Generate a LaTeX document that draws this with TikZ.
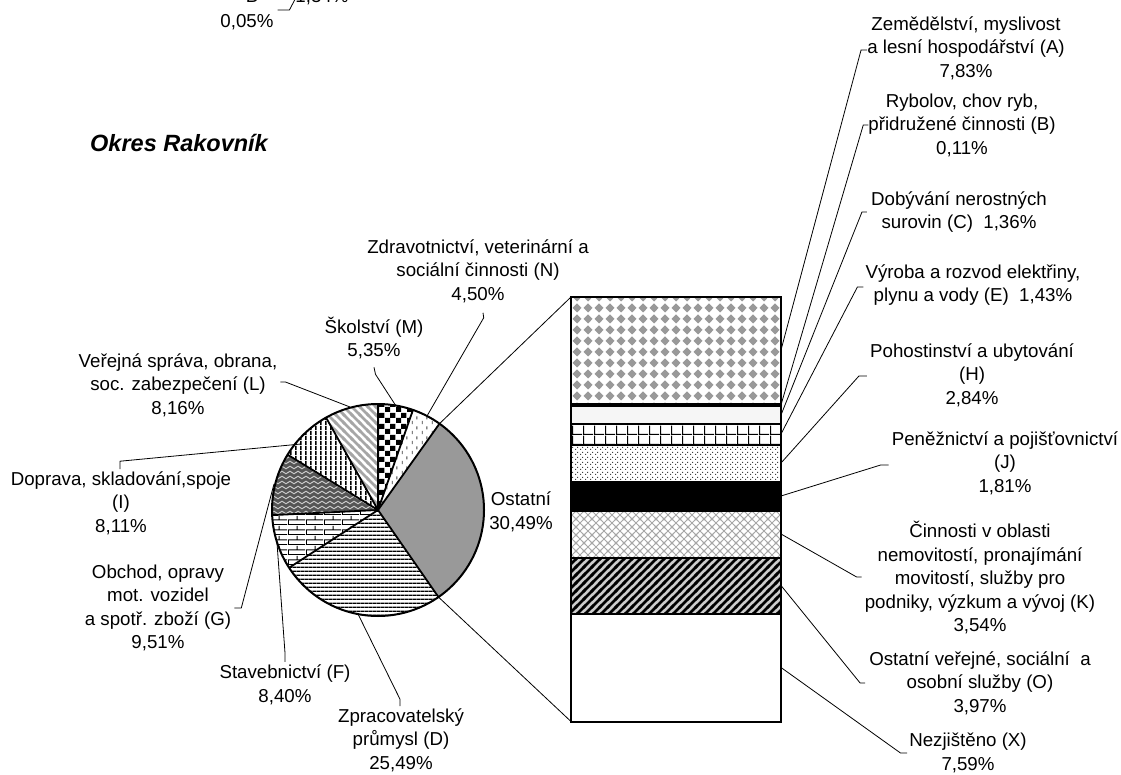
\documentclass[tikz,border=0pt]{standalone}
\usepackage{fontspec}
\setmainfont{Liberation Sans}
\usetikzlibrary{patterns,calc}

\definecolor{ogray}{RGB}{153,153,153}
\definecolor{wavebg}{RGB}{85,85,85}
\definecolor{wavefg}{RGB}{200,200,200}
\definecolor{lgray}{RGB}{166,166,166}
\definecolor{cband}{RGB}{246,246,246}
\definecolor{obg}{RGB}{204,204,204}

% ---------- patterns ----------
\pgfdeclarepatternformonly{pchecker}{\pgfqpoint{0pt}{0pt}}{\pgfqpoint{11pt}{11pt}}{\pgfqpoint{11pt}{11pt}}{%
  \pgfpathrectangle{\pgfqpoint{0pt}{0pt}}{\pgfqpoint{5.5pt}{5.5pt}}%
  \pgfpathrectangle{\pgfqpoint{5.5pt}{5.5pt}}{\pgfqpoint{5.5pt}{5.5pt}}%
  \pgfusepath{fill}}
\pgfdeclarepatternformonly{pvdash}{\pgfqpoint{0pt}{0pt}}{\pgfqpoint{10pt}{10pt}}{\pgfqpoint{10pt}{10pt}}{%
  \pgfpathrectangle{\pgfqpoint{2pt}{1pt}}{\pgfqpoint{0.9pt}{3.5pt}}%
  \pgfpathrectangle{\pgfqpoint{7pt}{6pt}}{\pgfqpoint{0.9pt}{3.5pt}}%
  \pgfusepath{fill}}
\pgfdeclarepatternformonly{phlines}{\pgfqpoint{0pt}{0pt}}{\pgfqpoint{4.2pt}{4.2pt}}{\pgfqpoint{4.2pt}{4.2pt}}{%
  \pgfpathrectangle{\pgfqpoint{0pt}{0pt}}{\pgfqpoint{4.2pt}{1.7pt}}\pgfusepath{fill}}
\pgfdeclarepatternformonly{pvlines}{\pgfqpoint{0pt}{0pt}}{\pgfqpoint{5pt}{5pt}}{\pgfqpoint{5pt}{5pt}}{%
  \pgfpathrectangle{\pgfqpoint{0pt}{0pt}}{\pgfqpoint{2pt}{5pt}}\pgfusepath{fill}}
\pgfdeclarepatternformonly{pbricks}{\pgfqpoint{0pt}{0pt}}{\pgfqpoint{18pt}{10pt}}{\pgfqpoint{18pt}{10pt}}{%
  \pgfpathrectangle{\pgfqpoint{0pt}{0pt}}{\pgfqpoint{18pt}{1pt}}%
  \pgfpathrectangle{\pgfqpoint{0pt}{5pt}}{\pgfqpoint{18pt}{1pt}}%
  \pgfpathrectangle{\pgfqpoint{0pt}{0pt}}{\pgfqpoint{1pt}{5pt}}%
  \pgfpathrectangle{\pgfqpoint{9pt}{5pt}}{\pgfqpoint{1pt}{5pt}}%
  \pgfusepath{fill}}
\pgfdeclarepatternformonly{pwaves}{\pgfqpoint{-1pt}{-1pt}}{\pgfqpoint{9pt}{6pt}}{\pgfqpoint{8pt}{5pt}}{%
  \pgfsetlinewidth{1pt}\pgfsetroundcap
  \pgfpathmoveto{\pgfqpoint{0pt}{2.5pt}}%
  \pgfpathcurveto{\pgfqpoint{1.3pt}{4.2pt}}{\pgfqpoint{2.7pt}{4.2pt}}{\pgfqpoint{4pt}{2.5pt}}%
  \pgfpathcurveto{\pgfqpoint{5.3pt}{0.8pt}}{\pgfqpoint{6.7pt}{0.8pt}}{\pgfqpoint{8pt}{2.5pt}}%
  \pgfusepath{stroke}}
\pgfdeclarepatternformonly{pnwlines}{\pgfqpoint{-2pt}{-2pt}}{\pgfqpoint{10pt}{10pt}}{\pgfqpoint{8pt}{8pt}}{%
  \pgfsetlinewidth{2.6pt}%
  \pgfpathmoveto{\pgfqpoint{-2pt}{10pt}}\pgfpathlineto{\pgfqpoint{10pt}{-2pt}}\pgfusepath{stroke}}
\pgfdeclarepatternformonly{pnelines}{\pgfqpoint{-2pt}{-2pt}}{\pgfqpoint{10pt}{10pt}}{\pgfqpoint{8pt}{8pt}}{%
  \pgfsetlinewidth{2.8pt}%
  \pgfpathmoveto{\pgfqpoint{-2pt}{-2pt}}\pgfpathlineto{\pgfqpoint{10pt}{10pt}}\pgfusepath{stroke}}
\pgfdeclarepatternformonly{pcross}{\pgfqpoint{-2pt}{-2pt}}{\pgfqpoint{10pt}{10pt}}{\pgfqpoint{8pt}{8pt}}{%
  \pgfsetlinewidth{0.9pt}%
  \pgfpathmoveto{\pgfqpoint{-2pt}{-2pt}}\pgfpathlineto{\pgfqpoint{10pt}{10pt}}%
  \pgfpathmoveto{\pgfqpoint{-2pt}{10pt}}\pgfpathlineto{\pgfqpoint{10pt}{-2pt}}\pgfusepath{stroke}}
\pgfdeclarepatternformonly{pdiamond}{\pgfqpoint{0pt}{0pt}}{\pgfqpoint{11pt}{11pt}}{\pgfqpoint{11pt}{11pt}}{%
  \pgfpathmoveto{\pgfqpoint{5.5pt}{0.6pt}}\pgfpathlineto{\pgfqpoint{10.4pt}{5.5pt}}%
  \pgfpathlineto{\pgfqpoint{5.5pt}{10.4pt}}\pgfpathlineto{\pgfqpoint{0.6pt}{5.5pt}}\pgfpathclose
  \pgfusepath{fill}}
\pgfdeclarepatternformonly{pgridE}{\pgfqpoint{0pt}{0pt}}{\pgfqpoint{11pt}{10pt}}{\pgfqpoint{11pt}{10pt}}{%
  \pgfpathrectangle{\pgfqpoint{0pt}{0pt}}{\pgfqpoint{11pt}{1.3pt}}%
  \pgfpathrectangle{\pgfqpoint{0pt}{0pt}}{\pgfqpoint{1.3pt}{10pt}}%
  \pgfusepath{fill}}
\pgfdeclarepatternformonly{pdotsH}{\pgfqpoint{0pt}{0pt}}{\pgfqpoint{5pt}{5pt}}{\pgfqpoint{5pt}{5pt}}{%
  \pgfpathrectangle{\pgfqpoint{0pt}{0pt}}{\pgfqpoint{1.2pt}{1.2pt}}%
  \pgfpathrectangle{\pgfqpoint{2.5pt}{2.5pt}}{\pgfqpoint{1.2pt}{1.2pt}}%
  \pgfusepath{fill}}

\tikzset{
  lbl/.style={font=\fontsize{18.7}{23.5}\selectfont, align=center, inner sep=0pt},
  ttl/.style={font=\fontsize{23.5}{28}\selectfont\bfseries\itshape, inner sep=0pt, anchor=west},
  leader/.style={draw=black, line width=0.8pt},
  rim/.style={draw=black, line width=1.8pt, line join=round},
  seg/.style={draw=black, line width=2pt},
}

\begin{document}
\begin{tikzpicture}[x=1pt,y=-1pt]
\useasboundingbox (0,0) rectangle (1121,775);
\fill[white] (0,0) rectangle (1121,775);

% ---------------- pie ----------------
\coordinate (pc) at (378,510);
\def\pr{106}
\path[fill=white, postaction={pattern=pchecker, pattern color=black}]
  (pc) -- ++(-90:\pr) arc[start angle=-90, end angle=-70.74, radius=\pr] -- cycle;
\path[fill=white, postaction={pattern=pvdash, pattern color=black!75}]
  (pc) -- ++(-70.74:\pr) arc[start angle=-70.74, end angle=-54.54, radius=\pr] -- cycle;
\path[fill=ogray]
  (pc) -- ++(-54.54:\pr) arc[start angle=-54.54, end angle=55.22, radius=\pr] -- cycle;
\path[fill=white, postaction={pattern=phlines, pattern color=black}]
  (pc) -- ++(55.22:\pr) arc[start angle=55.22, end angle=146.98, radius=\pr] -- cycle;
\path[fill=white, postaction={pattern=pbricks, pattern color=black}]
  (pc) -- ++(146.98:\pr) arc[start angle=146.98, end angle=177.22, radius=\pr] -- cycle;
\path[fill=wavebg, postaction={pattern=pwaves, pattern color=wavefg}]
  (pc) -- ++(177.22:\pr) arc[start angle=177.22, end angle=211.46, radius=\pr] -- cycle;
\path[fill=white, postaction={pattern=pvlines, pattern color=black}]
  (pc) -- ++(211.46:\pr) arc[start angle=211.46, end angle=240.66, radius=\pr] -- cycle;
\path[fill=white, postaction={pattern=pnwlines, pattern color=lgray}]
  (pc) -- ++(240.66:\pr) arc[start angle=240.66, end angle=270, radius=\pr] -- cycle;
\foreach \a in {-90,-70.74,-54.54,55.22,146.98,177.22,211.46,240.66}
  \draw[rim] (pc) -- ++(\a:\pr);
\draw[rim, line width=2pt] (pc) circle[radius=\pr];

% ---------------- bar ----------------
\coordinate (barTL) at (571,297);
\coordinate (barBL) at (571,721.5);
\path[fill=white, postaction={pattern=pdiamond, pattern color=ogray}] (571,297) rectangle (781,403.5);
\path[fill=white] (571,403.5) rectangle (781,406);
\path[fill=cband] (571,406) rectangle (781,424);
\path[fill=white, postaction={pattern=pgridE, pattern color=black}] (571,424) rectangle (781,444.5);
\path[fill=white, postaction={pattern=pdotsH, pattern color=black!75}] (571,444.5) rectangle (781,482);
\path[fill=black] (571,482) rectangle (781,510.5);
\path[fill=white, postaction={pattern=pcross, pattern color=lgray}] (571,510.5) rectangle (781,557.5);
\path[fill=obg, postaction={pattern=pnelines, pattern color=black}] (571,557.5) rectangle (781,613.5);
\path[fill=white] (571,613.5) rectangle (781,721.5);
\foreach \yy in {403.5,406,424,444.5,482,510.5,557.5,613.5}
  \draw[seg] (571,\yy) -- (781,\yy);
\draw[seg] (barTL) rectangle (781,721.5);

\coordinate (sA) at (781,350);
\coordinate (sB) at (781,404.8);
\coordinate (sC) at (781,415);
\coordinate (sE) at (781,434);
\coordinate (sH) at (781,463);
\coordinate (sJ) at (781,496);
\coordinate (sK) at (781,534);
\coordinate (sO) at (781,585.5);
\coordinate (sX) at (781,667.5);

% pie-to-bar connectors
\draw[leader] (pc) ++(-54.54:\pr) -- (barTL);
\draw[leader] (pc) ++(55.22:\pr) -- (barBL);

% ---------------- labels ----------------
\node[ttl] (title) at (90,143) {Okres Rakovník};

\node[lbl] (cutB) at (252,-4) {B};
\node[lbl] (cutV) at (247,22) {0,05\%};
\node[lbl] (cutP) at (322,-3) {1,34\%};
\coordinate (cutE) at (301,-12);
\draw[leader] (cutV.east) ++(4,-12) -- ++(11.7,0) -- (cutE);

\node[lbl] (nA) at (966,48) {Zemědělství, myslivost\\a lesní hospodářství (A)\\7,83\%};
\node[lbl] (nB) at (962,125) {Rybolov, chov ryb,\\přidružené činnosti (B)\\0,11\%};
\node[lbl] (nC) at (959,212) {Dobývání nerostných\\surovin (C)~~1,36\%};
\node[lbl] (nE) at (973,285) {Výroba a rozvod elektřiny,\\plynu a vody (E)~~1,43\%};
\node[lbl] (nH) at (972,375) {Pohostinství a ubytování\\(H)\\2,84\%};
\node[lbl] (nJ) at (1005,463) {Peněžnictví a pojišťovnictví\\(J)\\1,81\%};
\node[lbl] (nK) at (980,578) {Činnosti v oblasti\\nemovitostí, pronajímání\\movitostí, služby pro\\podniky, výzkum a vývoj (K)\\3,54\%};
\node[lbl] (nO) at (980,683) {Ostatní veřejné, sociální~~a\\osobní služby (O)\\3,97\%};
\node[lbl] (nX) at (968,753) {Nezjištěno (X)\\7,59\%};

\draw[leader] (nA.west) ++(0,2) -- ++(-6,0) -- (sA);
\draw[leader] (nB.west) -- ++(-5,0) -- (sB);
\draw[leader] ([xshift=-4pt]nC.west) -- ++(-5,0) -- (sC);
\draw[leader] ([xshift=-2pt]nE.west) ++(0,2) -- ++(-6,0) -- (sE);
\draw[leader] ([xshift=-3pt]nH.west) ++(0,1) -- ++(-8,0) -- (sH);
\draw[leader] ([xshift=-3pt]nJ.west) ++(0,2) -- ++(-8,0) -- (sJ);
\draw[leader] ([xshift=-3pt]nK.west) ++(0,-1) -- ++(-5,0) -- (sK);
\draw[leader] ([xshift=-4pt]nO.west) -- ++(-5,0) -- (sO);
\draw[leader] ([xshift=-2pt]nX.west) -- ++(-6.6,0) -- (sX);

% pie labels
\node[lbl] (pN) at (478,271) {Zdravotnictví, veterinární a\\sociální činnosti (N)\\4,50\%};
\node[lbl] (pM) at (374,338) {Školství (M)\\5,35\%};
\node[lbl] (pO) at (521,512) {Ostatní\\30,49\%};
\node[lbl] (pL) at (178,385) {Veřejná správa, obrana,\\soc. zabezpečení (L)\\8,16\%};
\node[lbl] (pI) at (121,503) {Doprava, skladování,spoje\\(I)\\8,11\%};
\node[lbl] (pG) at (158,608) {Obchod, opravy\\mot. vozidel\\a spotř. zboží (G)\\9,51\%};
\node[lbl] (pF) at (285,685) {Stavebnictví (F)\\8,40\%};
\node[lbl] (pD) at (401,740) {Zpracovatelský\\průmysl (D)\\25,49\%};

\coordinate (eM) at (395.7,405.5);
\coordinate (eN) at (427,416);
\coordinate (eL) at (350,407);
\coordinate (eI) at (301,444);
\coordinate (eG) at (274,484);
\coordinate (eF) at (277,543);
\coordinate (eD) at (358,614);

\draw[leader] (pM.south) ++(0,8) -- ++(1.5,7) -- (eM);
\draw[leader] (pN.south) ++(5,10) -- ++(0.7,5) -- (eN);
\draw[leader] (pL.east) ++(3,-3) -- ++(5,0) -- (eL);
\draw[leader] (pI.north) ++(-1,-2) -- ++(0,-8) -- (eI);
\draw[leader] (pG.east) ++(3,0) -- ++(7,0) -- (eG);
\draw[leader] (pF.north) ++(0,-3) -- ++(0,-9) -- (eF);
\draw[leader] (pD.north) ++(-1,-2) -- ++(0,-7) -- (eD);
\end{tikzpicture}
\end{document}
